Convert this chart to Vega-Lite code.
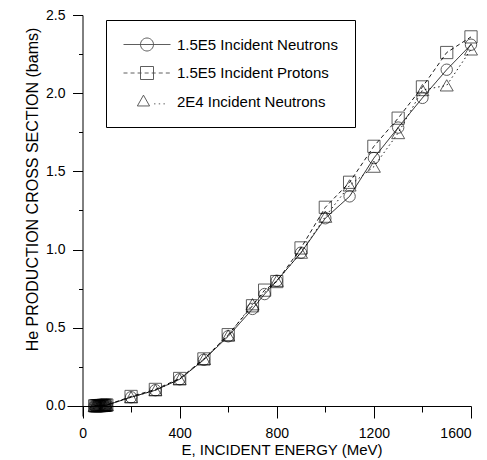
{
  "$schema": "https://vega.github.io/schema/vega-lite/v6.json",
  "width": 404,
  "height": 401,
  "autosize": {"type": "none"},
  "padding": {"left": 67, "top": 15, "right": 16, "bottom": 44},
  "background": "white",
  "config": {
    "view": {"stroke": null},
    "font": "Liberation Sans",
    "axis": {
      "domainColor": "black", "tickColor": "black", "labelColor": "black", "titleColor": "black",
      "grid": false, "labelFont": "Liberation Sans", "titleFont": "Liberation Sans",
      "labelFontSize": 14, "titleFontWeight": "normal", "domainWidth": 1, "tickWidth": 1
    }
  },
  "datasets": {
    "pts": [
      {"series": "1.5E5 Incident Neutrons", "E": 50, "sigma": 0.0},
      {"series": "1.5E5 Incident Neutrons", "E": 55, "sigma": 0.0},
      {"series": "1.5E5 Incident Neutrons", "E": 60, "sigma": 0.0},
      {"series": "1.5E5 Incident Neutrons", "E": 65, "sigma": 0.001},
      {"series": "1.5E5 Incident Neutrons", "E": 70, "sigma": 0.001},
      {"series": "1.5E5 Incident Neutrons", "E": 75, "sigma": 0.002},
      {"series": "1.5E5 Incident Neutrons", "E": 80, "sigma": 0.002},
      {"series": "1.5E5 Incident Neutrons", "E": 85, "sigma": 0.003},
      {"series": "1.5E5 Incident Neutrons", "E": 90, "sigma": 0.003},
      {"series": "1.5E5 Incident Neutrons", "E": 95, "sigma": 0.004},
      {"series": "1.5E5 Incident Neutrons", "E": 100, "sigma": 0.005},
      {"series": "1.5E5 Incident Neutrons", "E": 200, "sigma": 0.055},
      {"series": "1.5E5 Incident Neutrons", "E": 300, "sigma": 0.10},
      {"series": "1.5E5 Incident Neutrons", "E": 400, "sigma": 0.17},
      {"series": "1.5E5 Incident Neutrons", "E": 500, "sigma": 0.295},
      {"series": "1.5E5 Incident Neutrons", "E": 600, "sigma": 0.445},
      {"series": "1.5E5 Incident Neutrons", "E": 700, "sigma": 0.62},
      {"series": "1.5E5 Incident Neutrons", "E": 750, "sigma": 0.715},
      {"series": "1.5E5 Incident Neutrons", "E": 800, "sigma": 0.80},
      {"series": "1.5E5 Incident Neutrons", "E": 900, "sigma": 0.98},
      {"series": "1.5E5 Incident Neutrons", "E": 1000, "sigma": 1.20},
      {"series": "1.5E5 Incident Neutrons", "E": 1100, "sigma": 1.34},
      {"series": "1.5E5 Incident Neutrons", "E": 1200, "sigma": 1.585},
      {"series": "1.5E5 Incident Neutrons", "E": 1300, "sigma": 1.78},
      {"series": "1.5E5 Incident Neutrons", "E": 1400, "sigma": 1.97},
      {"series": "1.5E5 Incident Neutrons", "E": 1500, "sigma": 2.15},
      {"series": "1.5E5 Incident Neutrons", "E": 1600, "sigma": 2.31},
      {"series": "1.5E5 Incident Protons", "E": 50, "sigma": 0.0},
      {"series": "1.5E5 Incident Protons", "E": 55, "sigma": 0.0},
      {"series": "1.5E5 Incident Protons", "E": 60, "sigma": 0.0},
      {"series": "1.5E5 Incident Protons", "E": 65, "sigma": 0.001},
      {"series": "1.5E5 Incident Protons", "E": 70, "sigma": 0.001},
      {"series": "1.5E5 Incident Protons", "E": 75, "sigma": 0.002},
      {"series": "1.5E5 Incident Protons", "E": 80, "sigma": 0.002},
      {"series": "1.5E5 Incident Protons", "E": 85, "sigma": 0.003},
      {"series": "1.5E5 Incident Protons", "E": 90, "sigma": 0.003},
      {"series": "1.5E5 Incident Protons", "E": 95, "sigma": 0.004},
      {"series": "1.5E5 Incident Protons", "E": 100, "sigma": 0.005},
      {"series": "1.5E5 Incident Protons", "E": 200, "sigma": 0.06},
      {"series": "1.5E5 Incident Protons", "E": 300, "sigma": 0.105},
      {"series": "1.5E5 Incident Protons", "E": 400, "sigma": 0.175},
      {"series": "1.5E5 Incident Protons", "E": 500, "sigma": 0.30},
      {"series": "1.5E5 Incident Protons", "E": 600, "sigma": 0.455},
      {"series": "1.5E5 Incident Protons", "E": 700, "sigma": 0.64},
      {"series": "1.5E5 Incident Protons", "E": 750, "sigma": 0.74},
      {"series": "1.5E5 Incident Protons", "E": 800, "sigma": 0.795},
      {"series": "1.5E5 Incident Protons", "E": 900, "sigma": 1.01},
      {"series": "1.5E5 Incident Protons", "E": 1000, "sigma": 1.27},
      {"series": "1.5E5 Incident Protons", "E": 1100, "sigma": 1.43},
      {"series": "1.5E5 Incident Protons", "E": 1200, "sigma": 1.66},
      {"series": "1.5E5 Incident Protons", "E": 1300, "sigma": 1.84},
      {"series": "1.5E5 Incident Protons", "E": 1400, "sigma": 2.04},
      {"series": "1.5E5 Incident Protons", "E": 1500, "sigma": 2.26},
      {"series": "1.5E5 Incident Protons", "E": 1600, "sigma": 2.36},
      {"series": "2E4 Incident Neutrons", "E": 50, "sigma": 0.0},
      {"series": "2E4 Incident Neutrons", "E": 55, "sigma": 0.0},
      {"series": "2E4 Incident Neutrons", "E": 60, "sigma": 0.0},
      {"series": "2E4 Incident Neutrons", "E": 65, "sigma": 0.001},
      {"series": "2E4 Incident Neutrons", "E": 70, "sigma": 0.001},
      {"series": "2E4 Incident Neutrons", "E": 75, "sigma": 0.002},
      {"series": "2E4 Incident Neutrons", "E": 80, "sigma": 0.002},
      {"series": "2E4 Incident Neutrons", "E": 85, "sigma": 0.003},
      {"series": "2E4 Incident Neutrons", "E": 90, "sigma": 0.003},
      {"series": "2E4 Incident Neutrons", "E": 95, "sigma": 0.004},
      {"series": "2E4 Incident Neutrons", "E": 100, "sigma": 0.005},
      {"series": "2E4 Incident Neutrons", "E": 200, "sigma": 0.055},
      {"series": "2E4 Incident Neutrons", "E": 300, "sigma": 0.10},
      {"series": "2E4 Incident Neutrons", "E": 400, "sigma": 0.17},
      {"series": "2E4 Incident Neutrons", "E": 500, "sigma": 0.30},
      {"series": "2E4 Incident Neutrons", "E": 600, "sigma": 0.45},
      {"series": "2E4 Incident Neutrons", "E": 700, "sigma": 0.65},
      {"series": "2E4 Incident Neutrons", "E": 800, "sigma": 0.80},
      {"series": "2E4 Incident Neutrons", "E": 900, "sigma": 0.98},
      {"series": "2E4 Incident Neutrons", "E": 1000, "sigma": 1.21},
      {"series": "2E4 Incident Neutrons", "E": 1100, "sigma": 1.41},
      {"series": "2E4 Incident Neutrons", "E": 1200, "sigma": 1.53},
      {"series": "2E4 Incident Neutrons", "E": 1300, "sigma": 1.745},
      {"series": "2E4 Incident Neutrons", "E": 1400, "sigma": 2.02},
      {"series": "2E4 Incident Neutrons", "E": 1500, "sigma": 2.05},
      {"series": "2E4 Incident Neutrons", "E": 1600, "sigma": 2.28}
    ]
  },
  "data": {"name": "pts"},
  "resolve": {
    "scale": {"shape": "independent"},
    "axis": {"x": "independent", "y": "independent"},
    "legend": {"shape": "independent"}
  },
  "layer": [
    {
      "mark": {"type": "line", "color": "black", "strokeWidth": 0.9},
      "encoding": {
        "x": {
          "field": "E", "type": "quantitative",
          "scale": {"domain": [-64, 1600], "nice": false, "zero": false},
          "axis": {
            "orient": "bottom", "values": [0, 400, 800, 1200, 1600], "format": "d",
            "tickSize": 12, "labelPadding": 8, "offset": -10,
            "title": "E, INCIDENT ENERGY (MeV)", "titleFontSize": 15,
            "titleX": 214.5, "titleY": 43, "titleBaseline": "middle", "titleAnchor": "middle"
          }
        },
        "y": {
          "field": "sigma", "type": "quantitative",
          "scale": {"domain": [-0.065, 2.5], "nice": false, "zero": false},
          "axis": {
            "orient": "left", "values": [0, 0.5, 1, 1.5, 2, 2.5], "format": ".1f",
            "tickSize": 10, "labelPadding": 7.5, "offset": -15.5,
            "title": "He PRODUCTION CROSS SECTION (bams)", "titleFontSize": 16,
            "titleX": -50.5, "titleY": 174, "titleBaseline": "middle", "titleAnchor": "middle"
          }
        },
        "detail": {"field": "series"},
        "strokeDash": {
          "field": "series", "type": "nominal",
          "scale": {
            "domain": ["1.5E5 Incident Neutrons", "1.5E5 Incident Protons", "2E4 Incident Neutrons"],
            "range": [[1, 0], [4, 3], [1.5, 3]]
          },
          "legend": null
        }
      }
    },
    {
      "mark": {"type": "point", "filled": false, "color": "black", "strokeWidth": 0.9},
      "encoding": {
        "x": {
          "field": "E", "type": "quantitative",
          "axis": {
            "orient": "bottom", "values": [200, 600, 1000, 1400], "tickSize": 6,
            "labels": false, "domain": false, "title": null, "offset": -10
          }
        },
        "y": {
          "field": "sigma", "type": "quantitative",
          "axis": {
            "orient": "left", "values": [0.25, 0.75, 1.25, 1.75, 2.25], "tickSize": 4,
            "labels": false, "domain": false, "title": null, "offset": -15.5
          }
        },
        "shape": {
          "field": "series", "type": "nominal",
          "scale": {
            "domain": ["1.5E5 Incident Neutrons", "1.5E5 Incident Protons", "2E4 Incident Neutrons"],
            "range": ["circle", "square", "triangle-up"]
          },
          "legend": null
        },
        "size": {
          "field": "series", "type": "nominal",
          "scale": {
            "domain": ["1.5E5 Incident Neutrons", "1.5E5 Incident Protons", "2E4 Incident Neutrons"],
            "range": [130, 169, 150]
          },
          "legend": null
        }
      }
    },
    {
      "transform": [{"filter": "false"}],
      "mark": {"type": "point", "filled": false, "color": "black", "strokeWidth": 0.9, "size": 2209},
      "encoding": {
        "x": {"field": "E", "type": "quantitative", "axis": null},
        "y": {"field": "sigma", "type": "quantitative", "axis": null},
        "shape": {
          "field": "series", "type": "nominal",
          "scale": {
            "domain": ["1.5E5 Incident Neutrons", "1.5E5 Incident Protons", "2E4 Incident Neutrons"],
            "range": [
              "M-1,0H1M-0.2766,0A0.2766,0.2766 0 1,0 0.2766,0A0.2766,0.2766 0 1,0 -0.2766,0",
              "M-1,0H-0.83M-0.7,0H-0.53M-0.4,0H-0.23M-0.1,0H0.07M0.2,0H0.37M0.5,0H0.67M0.8,0H0.97M-0.2766,-0.2766H0.2766V0.2766H-0.2766Z",
              "M-0.15,-0.27L0.11,0.19H-0.41ZM0.3,0.1H0.36M0.5,0.1H0.56M0.7,0.1H0.76"
            ]
          },
          "legend": {
            "title": null, "orient": "none", "legendX": 39, "legendY": 5,
            "padding": 17, "strokeColor": "black", "fillColor": "white",
            "clipHeight": 15, "rowPadding": 12.5, "symbolSize": 2209,
            "symbolStrokeWidth": 0.9, "symbolStrokeColor": "black",
            "labelOffset": 6, "labelFontSize": 15, "labelLimit": 400,
            "labelFont": "Liberation Sans", "labelColor": "black"
          }
        }
      }
    }
  ]
}
